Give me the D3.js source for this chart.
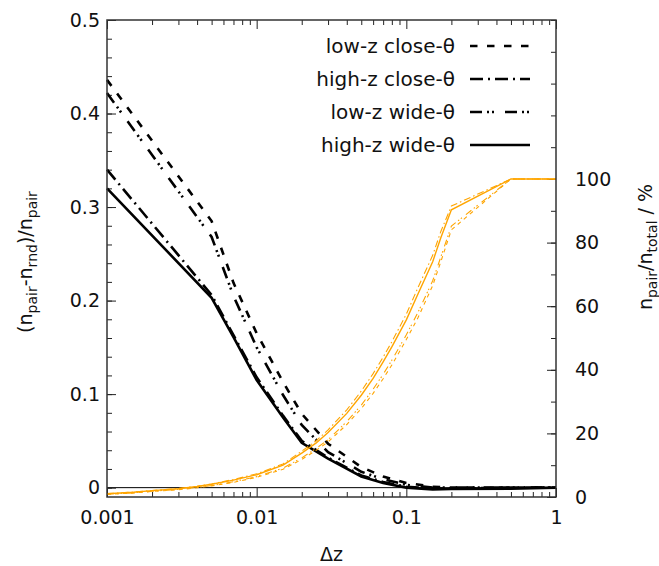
<!DOCTYPE html>
<html>
<head>
<meta charset="utf-8">
<script src="https://cdn.jsdelivr.net/npm/d3@7"></script>
<style>
  html, body { margin: 0; padding: 0; background: #fff; }
  svg { display: block; font-family: 'DejaVu Sans', sans-serif; }
</style>
</head>
<body>
<div id="chart"></div>
<script>
// delta z sample points
const dzBlack = [0.001, 0.005, 0.007, 0.01, 0.015, 0.02, 0.03, 0.05, 0.07, 0.1, 0.15, 0.2, 0.5, 1];
const dzOrange = [0.001, 0.0015, 0.002, 0.003, 0.004, 0.005, 0.007, 0.01, 0.015, 0.02, 0.025, 0.03,
  0.04, 0.05, 0.06, 0.07, 0.08, 0.1, 0.12, 0.15, 0.17, 0.2, 0.5, 1];

// (n_pair - n_rnd) / n_pair  (left axis)
const lowCloseExcess  = [0.436, 0.285, 0.219, 0.165, 0.113, 0.079, 0.047, 0.022, 0.012, 0.005, 0.001, 0.0, 0.0, 0.0];
const highCloseExcess = [0.340, 0.206, 0.163, 0.118, 0.077, 0.050, 0.032, 0.013, 0.006, 0.001, -0.001, -0.001, 0.0, 0.0];
const lowWideExcess   = [0.422, 0.268, 0.205, 0.150, 0.099, 0.067, 0.038, 0.017, 0.009, 0.003, 0.0, 0.0, 0.0, 0.0];
const highWideExcess  = [0.320, 0.203, 0.161, 0.115, 0.075, 0.048, 0.031, 0.012, 0.005, 0.0, -0.002, -0.0015, -0.001, 0.0];

// n_pair / n_total in %  (right axis)
const lowCloseFrac  = [0.85, 1.25, 1.75, 2.3, 2.9, 3.5, 4.6, 6.2, 8.7, 11.8, 14.7, 17.3,
  22.8, 27.8, 32.6, 37.2, 41.5, 49.5, 56.5, 66.5, 74.0, 84.0, 100, 100];
const highCloseFrac = [1.05, 1.55, 2.05, 2.7, 3.4, 4.1, 5.5, 7.3, 10.4, 14.4, 17.7, 21.1,
  27.4, 33.3, 38.8, 44.0, 48.8, 57.5, 66.0, 76.0, 83.5, 91.5, 100, 100];
const lowWideFrac   = [0.9, 1.3, 1.8, 2.4, 3.0, 3.6, 4.8, 6.4, 9.1, 12.3, 15.3, 18.0,
  23.7, 28.9, 33.9, 38.6, 43.0, 51.0, 58.2, 68.0, 75.5, 85.2, 100, 100];
const highWideFrac  = [1.0, 1.5, 2.0, 2.6, 3.3, 4.0, 5.3, 7.0, 10.0, 13.8, 17.0, 20.3,
  26.3, 32.0, 37.3, 42.5, 47.2, 55.7, 64.0, 74.0, 81.5, 90.3, 100, 100];

const seriesNames = ['low-z close-θ', 'high-z close-θ', 'low-z wide-θ', 'high-z wide-θ'];
const xTicks = [0.001, 0.01, 0.1, 1];
const yTicks = [0, 0.1, 0.2, 0.3, 0.4, 0.5];
const y2Ticks = [0, 20, 40, 60, 80, 100];

const W = 659, H = 566;
const margin = { top: 20, right: 103, bottom: 69, left: 107 };
const plotW = W - margin.left - margin.right,
  plotH = H - margin.top - margin.bottom;

const dashes = ['7.5,9.5', '13,5,2,5', '12,5,2,3,2,11', null];
const thinDashes = ['4,4', '7,3,1.5,3', '7,3,1.5,2,1.5,5', null];

const x = d3.scaleLog().domain([0.001, 1]).range([0, plotW]);
const y = d3.scaleLinear().domain([-0.01, 0.5]).range([plotH, 0]);
const y2 = d3.scaleLinear().domain([0, 150]).range([plotH, 0]);

const svg = d3.select('#chart').append('svg')
  .attr('width', W).attr('height', H);

const chart = svg.append('g')
  .attr('transform', 'translate(' + margin.left + ',' + margin.top + ')');

// zero line
chart.append('line')
  .attr('x1', 0).attr('x2', plotW)
  .attr('y1', y(0)).attr('y2', y(0))
  .attr('stroke', '#000').attr('stroke-width', 1);

// minor ticks
const xMinor = [];
[0.001, 0.01, 0.1].forEach((d) => { for (let k = 2; k <= 9; k++) xMinor.push(d * k); });
const yMinor = d3.range(0, 0.5001, 0.02);
const y2Minor = d3.range(0, 150.1, 10);

function tickAxis(axis, transform, cls) {
  return chart.append('g').attr('class', cls)
    .attr('transform', transform)
    .call(axis)
    .call((g) => g.select('.domain').remove());
}

tickAxis(d3.axisBottom(x).tickValues(xMinor).tickSize(-5).tickFormat(''), 'translate(0,' + plotH + ')', 'x minor');
tickAxis(d3.axisTop(x).tickValues(xMinor).tickSize(-5).tickFormat(''), 'translate(0,0)', 'x2 minor');
tickAxis(d3.axisTop(x).tickValues(xTicks).tickSize(-9).tickFormat(''), 'translate(0,0)', 'x2 major');
tickAxis(d3.axisLeft(y).tickValues(yMinor).tickSize(-5).tickFormat(''), 'translate(0,0)', 'y minor');
tickAxis(d3.axisRight(y2).tickValues(y2Minor).tickSize(-5).tickFormat(''), 'translate(' + plotW + ',0)', 'y2 minor');

tickAxis(d3.axisBottom(x).tickValues(xTicks).tickSize(-9).tickPadding(14)
  .tickFormat((d) => String(d)), 'translate(0,' + plotH + ')', 'x axis');
tickAxis(d3.axisLeft(y).tickValues(yTicks).tickSize(-9).tickPadding(7)
  .tickFormat((d) => d === 0 ? '0' : d3.format('.1f')(d)), 'translate(0,0)', 'y axis');
tickAxis(d3.axisRight(y2).tickValues(y2Ticks).tickSize(-9).tickPadding(19)
  .tickFormat((d) => String(d)), 'translate(' + plotW + ',0)', 'y2 axis');

chart.selectAll('.tick line').attr('stroke', '#222').attr('stroke-width', 1);
chart.selectAll('.tick text').attr('font-size', 19).attr('fill', '#111')
  .attr('font-family', "'DejaVu Sans', sans-serif");

// black excess curves
const excess = [lowCloseExcess, highCloseExcess, lowWideExcess, highWideExcess];
const frac = [lowCloseFrac, highCloseFrac, lowWideFrac, highWideFrac];

const lineL = d3.line().x((d) => x(d[0])).y((d) => y(d[1]));
const lineR = d3.line().x((d) => x(d[0])).y((d) => y2(d[1]));

excess.forEach((vals, idx) => {
  chart.append('path')
    .datum(dzBlack.map((dz, i) => [dz, vals[i]]))
    .attr('d', lineL)
    .attr('fill', 'none')
    .attr('stroke', '#000')
    .attr('stroke-width', 2.6)
    .attr('stroke-dasharray', dashes[idx]);
});

frac.forEach((vals, idx) => {
  chart.append('path')
    .datum(dzOrange.map((dz, i) => [dz, vals[i]]))
    .attr('d', lineR)
    .attr('fill', 'none')
    .attr('stroke', '#ffa500')
    .attr('stroke-width', idx === 3 ? 1.4 : 1.1)
    .attr('stroke-dasharray', thinDashes[idx]);
});

// frame
chart.append('rect')
  .attr('x', 0).attr('y', 0).attr('width', plotW).attr('height', plotH)
  .attr('fill', 'none').attr('stroke', '#333').attr('stroke-width', 1.5);

// legend
const legend = chart.append('g');
seriesNames.forEach((name, idx) => {
  const ly = 26 + idx * 33;
  legend.append('text')
    .attr('x', 455 - margin.left).attr('y', ly)
    .attr('dy', '0.35em')
    .attr('text-anchor', 'end')
    .attr('font-size', 20).attr('fill', '#111')
    .text(name);
  legend.append('line')
    .attr('x1', 470 - margin.left).attr('x2', 530 - margin.left)
    .attr('y1', ly).attr('y2', ly)
    .attr('stroke', '#000').attr('stroke-width', 2.6)
    .attr('stroke-dasharray', dashes[idx]);
});

// axis titles
svg.append('text')
  .attr('x', margin.left + plotW / 2).attr('y', 561)
  .attr('text-anchor', 'middle').attr('font-size', 19).attr('fill', '#111')
  .text('Δz');

function subLabel(tx, ty, parts) {
  const t = svg.append('text')
    .attr('transform', 'translate(' + tx + ',' + ty + ') rotate(-90)')
    .attr('text-anchor', 'middle').attr('font-size', 19).attr('fill', '#111');
  let down = false;
  parts.forEach(([str, sub]) => {
    const dy = sub && !down ? 5 : (!sub && down ? -5 : 0);
    t.append('tspan').attr('dy', dy).attr('font-size', sub ? 14 : 19).text(str);
    down = sub;
  });
}

subLabel(32, 262, [['(n', false], ['pair', true], ['-n', false], ['rnd', true], [')/n', false], ['pair', true]]);
subLabel(652, 247, [['n', false], ['pair', true], ['/n', false], ['total', true], [' / %', false]]);
</script>
</body>
</html>
